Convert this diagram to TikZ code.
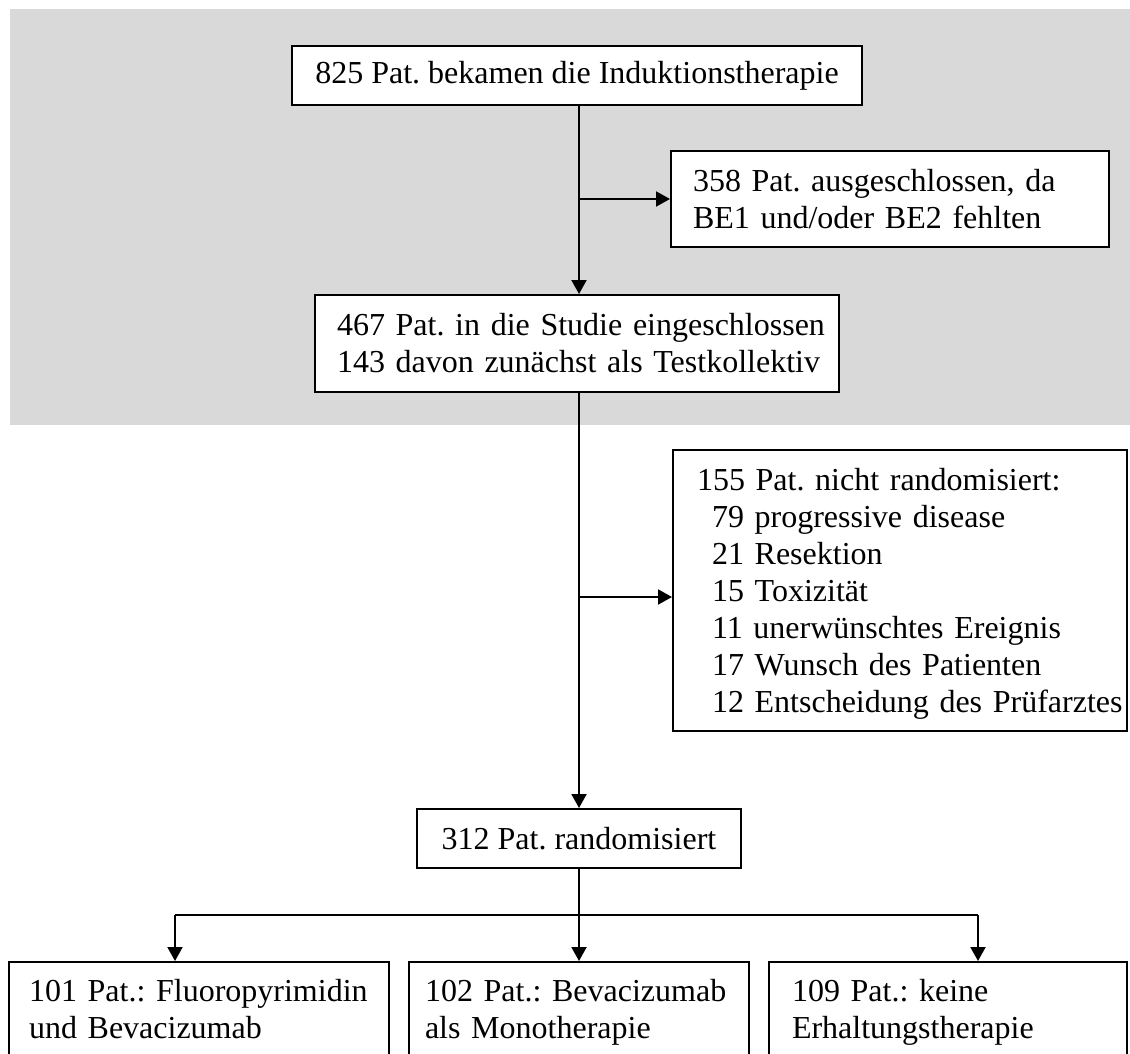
\documentclass[tikz,border=0pt]{standalone}
\usepackage{fontspec}
\setmainfont{Liberation Serif}
\usetikzlibrary{arrows.meta}
\definecolor{bg}{RGB}{217,217,217}
\frenchspacing
\newcommand{\boxline}[1]{\mbox{\rule[-3.95pt]{0pt}{18.5pt}#1}}
\begin{document}
\begin{tikzpicture}[x=0.5pt,y=-0.5pt,
  box/.style={draw=black, line width=1pt, fill=white, inner ysep=0pt,
    font=\fontsize{16}{18.5}\selectfont\frenchspacing},
  arr/.style={line width=1pt, -{Triangle[length=7pt,width=7.5pt]}},
  plainline/.style={line width=1pt}]
\clip (0,0) rectangle (1130,1054);
\fill[bg] (10,9) rectangle (1130,425);

\node[box, minimum width=285pt, minimum height=29.5pt, inner xsep=0pt] (A) at (577,75.5)
  {825 Pat. bekamen die Induktionstherapie};
\node[box, text width=197pt, inner xsep=11pt, minimum height=48pt, align=left] (B) at (890,199)
  {\boxline{358 Pat. ausgeschlossen, da}\\\boxline{BE1 und/oder BE2 fehlten}};
\node[box, text width=240pt, inner xsep=11pt, minimum height=48.5pt, align=left] (C) at (577,343.5)
  {\boxline{467 Pat. in die Studie eingeschlossen}\\\boxline{143 davon zunächst als Testkollektiv}};
\node[box, text width=203pt, inner xsep=12pt, minimum height=140.5pt, align=left] (D) at (900,590.5)
  {\boxline{155 Pat. nicht randomisiert:}\\
   \boxline{\hspace{7.5pt}79 progressive disease}\\
   \boxline{\hspace{7.5pt}21 Resektion}\\
   \boxline{\hspace{7.5pt}15 Toxizität}\\
   \boxline{\hspace{7.5pt}11 unerwünschtes Ereignis}\\
   \boxline{\hspace{7.5pt}17 Wunsch des Patienten}\\
   \boxline{\hspace{7.5pt}12 Entscheidung des Prüfarztes}};
\node[box, minimum width=162pt, minimum height=29.5pt, inner xsep=0pt] (E) at (579,838.5)
  {312 Pat. randomisiert};
\node[box, text width=170pt, inner xsep=10pt, minimum height=47pt, align=left] (F1) at (199,1009)
  {\boxline{101 Pat.: Fluoropyrimidin}\\\boxline{und Bevacizumab}};
\node[box, text width=154pt, inner xsep=8pt, minimum height=47pt, align=left] (F2) at (579,1009)
  {\boxline{102 Pat.: Bevacizumab}\\\boxline{als Monotherapie}};
\node[box, text width=156pt, inner xsep=11.5pt, minimum height=47pt, align=left] (F3) at (948,1009)
  {\boxline{109 Pat.: keine}\\\boxline{Erhaltungstherapie}};

\coordinate (t1) at (579,199);
\coordinate (t2) at (579,597);
\coordinate (bar) at (579,915);
\coordinate (bl) at (175,915);
\coordinate (br) at (978,915);

\draw[arr] (A.south -| t1) -- (C.north -| t1);
\draw[arr] (t1) -- (B.west |- t1);
\draw[arr] (C.south -| t2) -- (E.north -| t2);
\draw[arr] (t2) -- (D.west |- t2);
\draw[plainline] (E.south -| bar) -- (bar);
\draw[plainline] (bl) -- (br);
\draw[arr] (bl) -- (F1.north -| bl);
\draw[arr] (bar) -- (F2.north -| bar);
\draw[arr] (br) -- (F3.north -| br);
\end{tikzpicture}
\end{document}
